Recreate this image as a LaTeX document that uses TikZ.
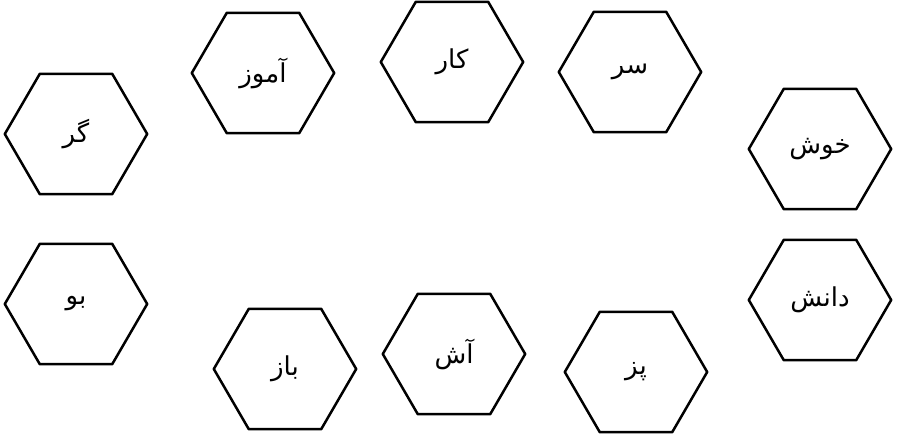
\documentclass[tikz,border=0pt]{standalone}
\usepackage{fontspec}
\usepackage{tikz}
\newfontfamily\arabicfont[Script=Arabic]{DejaVu Sans}
\TeXXeTstate=1

\tikzset{
  word/.style={minimum width=142pt,minimum height=120pt,inner sep=0pt,
    font=\arabicfont\fontsize{26}{30}\selectfont},
  hexline/.style={line width=2.5pt,line join=round}
}

\begin{document}
\begin{tikzpicture}[x=1pt,y=-1pt]
  \useasboundingbox (0,0) rectangle (898,434);
  % top row
  \node[word] (gar) at (76,134) {\beginR گر\endR};
  \node[word] (amuz) at (263,73) {\beginR آموز\endR};
  \node[word] (kar) at (452,62) {\beginR کار\endR};
  \node[word] (sar) at (630,72) {\beginR سر\endR};
  \node[word] (khosh) at (820,149) {\beginR خوش\endR};
  % bottom row
  \node[word] (bu) at (76,304) {\beginR بو\endR};
  \node[word] (baz) at (285,369) {\beginR باز\endR};
  \node[word] (ash) at (454,354) {\beginR آش\endR};
  \node[word] (paz) at (636,372) {\beginR پز\endR};
  \node[word] (danesh) at (820,300) {\beginR دانش\endR};
  % hexagons round the words
  \foreach \n in {gar,amuz,kar,sar,khosh,bu,baz,ash,paz,danesh}
    \draw[hexline] (\n.west) -- ([xshift=35pt]\n.north west) -- ([xshift=-35pt]\n.north east)
      -- (\n.east) -- ([xshift=-35pt]\n.south east) -- ([xshift=35pt]\n.south west) -- cycle;
\end{tikzpicture}
\end{document}
